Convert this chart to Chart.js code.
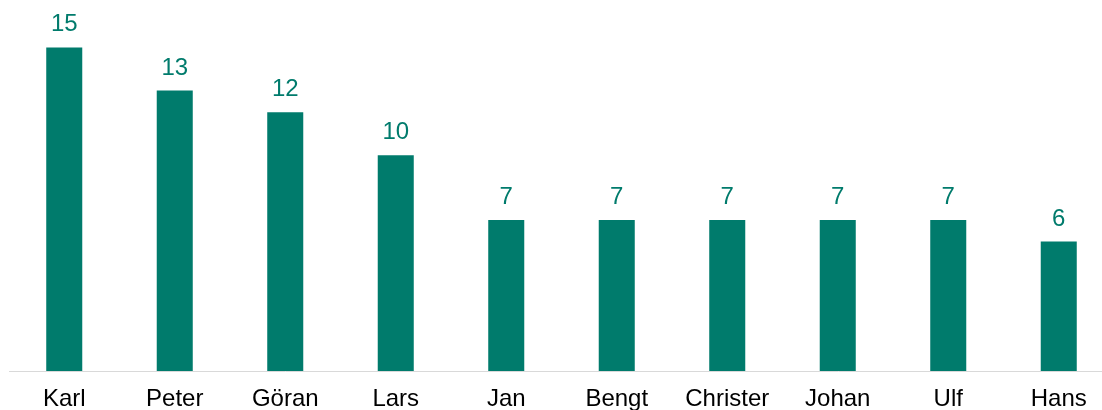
<!DOCTYPE html>
<html>
<head>
<meta charset="utf-8">
<script src="https://cdn.jsdelivr.net/npm/chart.js@4"></script>
<style>
  html, body { margin: 0; padding: 0; background: #fff; overflow: hidden; }
  #wrap { width: 1114px; height: 410px; }
</style>
</head>
<body>
<div id="wrap"><canvas id="myChart" width="1114" height="410"></canvas></div>
<script>
var namnLabel = ['Karl', 'Peter', 'Göran', 'Lars', 'Jan', 'Bengt', 'Christer', 'Johan', 'Ulf', 'Hans']
var antalLabel = [15, 13, 12, 10, 7, 7, 7, 7, 7, 6]

var teal = '#007B6C'

// draws the numbers above each bar
var valuePlugin = {
    id: 'valueLabels',
    afterDatasetsDraw(chart) {
        let ctx = chart.ctx
        let meta = chart.getDatasetMeta(0)
        ctx.save()
        ctx.font = '24px "Liberation Sans", Arial, sans-serif'
        ctx.fillStyle = teal
        ctx.textAlign = 'center'
        ctx.textBaseline = 'alphabetic'
        meta.data.forEach((bar, i) => {
            ctx.fillText(antalLabel[i], bar.x, bar.y - 16)
        })
        ctx.restore()
    }
}

let ctx = document.getElementById('myChart').getContext('2d')
let myChart = new Chart(ctx, {
    type: 'bar',
    data: {
        labels: namnLabel,
        datasets: [{
            data: antalLabel,
            backgroundColor: teal,
            barPercentage: 1,
            categoryPercentage: 0.326
        }]
    },
    options: {
        responsive: false,
        animation: false,
        layout: { padding: { left: 9, right: 0, top: 0, bottom: -17 } },
        plugins: {
            legend: { display: false },
            tooltip: { enabled: false }
        },
        scales: {
            x: {
                grid: { display: false, drawTicks: false },
                border: { display: true, color: '#d9d9d9', width: 1 },
                ticks: {
                    color: '#000',
                    padding: 16,
                    font: { family: '"Liberation Sans", Arial, sans-serif', size: 24, lineHeight: 1 }
                }
            },
            y: {
                display: false,
                min: 0,
                max: 17.2
            }
        }
    },
    plugins: [valuePlugin]
})
</script>
</body>
</html>
